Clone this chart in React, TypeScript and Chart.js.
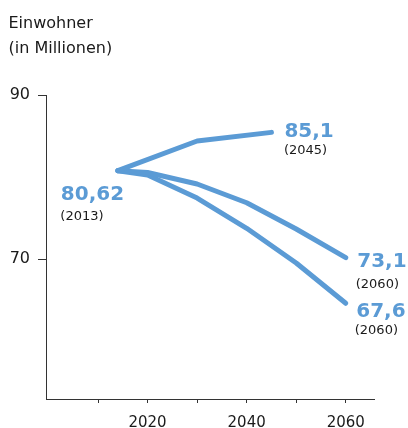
import React, { useEffect, useRef } from "react";
import { Chart, registerables } from "chart.js";

Chart.register(...registerables);

// ---- data ----
const titleLines = ["Einwohner", "(in Millionen)"];
const yTickValues = [70, 90];
const xTickValues = [2010, 2020, 2030, 2040, 2050, 2060];
const xLabelValues = [2020, 2040, 2060];

const upperYears = [2014, 2030, 2045];
const upperValues = [80.79, 84.4, 85.45];

const middleYears = [2014, 2020, 2030, 2040, 2050, 2060];
const middleValues = [80.79, 80.57, 79.17, 76.89, 73.69, 70.2];

const lowerYears = [2014, 2020, 2030, 2040, 2050, 2060];
const lowerValues = [80.79, 80.26, 77.46, 73.78, 69.55, 64.65];

const valueLabels = ["80,62", "85,1", "73,1", "67,6"];
const yearLabels = ["(2013)", "(2045)", "(2060)", "(2060)"];

const BLUE = "#5b9bd5";
const INK = "#1a1a1a";
const AXIS = "#333333";
const FONT = '"DejaVu Sans"';

const toPoints = (xs: number[], ys: number[]) => xs.map((x, i) => ({ x, y: ys[i] }));

// anchor: [datasetIndex, pointIndex], offsets in px
const annotationAnchors = [
  { ds: 0, pt: 0, bx: -57, by: 29, sx: -57.5, sy: 49 },
  { ds: 0, pt: 2, bx: 13, by: 4.4, sx: 12.5, sy: 22 },
  { ds: 1, pt: 5, bx: 11.5, by: 9, sx: 10, sy: 30.5 },
  { ds: 2, pt: 5, bx: 10.5, by: 13.4, sx: 9, sy: 31 },
];

const textPlugin = {
  id: "textPlugin",
  afterDraw(chart: any) {
    const ctx = chart.ctx;
    ctx.save();
    ctx.fillStyle = INK;
    ctx.font = `16px ${FONT}`;
    ctx.textAlign = "left";
    ctx.textBaseline = "alphabetic";
    ctx.fillText(titleLines[0], 8.5, 28);
    ctx.fillText(titleLines[1], 8.5, 52.5);

    annotationAnchors.forEach((a, i) => {
      const meta = chart.getDatasetMeta(a.ds);
      const el = meta.data[a.pt];
      if (!el) return;
      const px = el.x;
      const py = el.y;
      ctx.fillStyle = BLUE;
      ctx.font = `bold 20px ${FONT}`;
      ctx.fillText(valueLabels[i], px + a.bx, py + a.by);
      ctx.fillStyle = INK;
      ctx.font = `13px ${FONT}`;
      ctx.fillText(yearLabels[i], px + a.sx, py + a.sy);
    });
    ctx.restore();
  },
};

export default function App() {
  const ref = useRef<HTMLCanvasElement | null>(null);

  useEffect(() => {
    if (!ref.current) return;
    const lineStyle = {
      borderColor: BLUE,
      borderWidth: 5,
      pointRadius: 0,
      fill: false,
      tension: 0,
      borderCapStyle: "round" as const,
      borderJoinStyle: "round" as const,
    };
    const chart = new Chart(ref.current, {
      type: "line",
      data: {
        datasets: [
          { ...lineStyle, data: toPoints(upperYears, upperValues) },
          { ...lineStyle, data: toPoints(middleYears, middleValues) },
          { ...lineStyle, data: toPoints(lowerYears, lowerValues) },
        ],
      },
      options: {
        responsive: false,
        animation: false,
        devicePixelRatio: 1,
        layout: { padding: { top: 95, right: 34, left: 0, bottom: 0 } },
        plugins: { legend: { display: false }, tooltip: { enabled: false } },
        scales: {
          x: {
            type: "linear",
            min: 1999.5,
            max: 2065.7,
            afterBuildTicks: (s: any) => {
              s.ticks = xTickValues.map((v) => ({ value: v }));
            },
            afterFit: (s: any) => {
              s.height = 29;
              s.paddingLeft = 0;
              s.paddingRight = 0;
            },
            ticks: {
              autoSkip: false,
              maxRotation: 0,
              padding: 11,
              color: INK,
              font: { family: FONT, size: 15 },
              callback: (v: any) => (xLabelValues.includes(Number(v)) ? String(v) : ""),
            },
            grid: { drawOnChartArea: false, drawTicks: true, tickLength: 4, color: AXIS, lineWidth: 1 },
            border: { color: AXIS, width: 1 },
          },
          y: {
            type: "linear",
            min: 53,
            max: 90,
            afterBuildTicks: (s: any) => {
              s.ticks = yTickValues.map((v) => ({ value: v }));
            },
            afterFit: (s: any) => {
              s.width = 46;
              s.paddingTop = 0;
              s.paddingBottom = 0;
            },
            ticks: {
              padding: 8,
              color: INK,
              font: { family: FONT, size: 16 },
              callback: (v: any) => String(v),
            },
            grid: { drawOnChartArea: false, drawTicks: true, tickLength: 8, color: AXIS, lineWidth: 1 },
            border: { color: AXIS, width: 1 },
          },
        },
      },
      plugins: [textPlugin],
    });
    return () => chart.destroy();
  }, []);

  return (
    <div style={{ position: "absolute", left: 0, top: 0, width: 408, height: 428, background: "#fff" }}>
      <canvas ref={ref} width={408} height={428} style={{ width: 408, height: 428, display: "block" }} />
    </div>
  );
}
